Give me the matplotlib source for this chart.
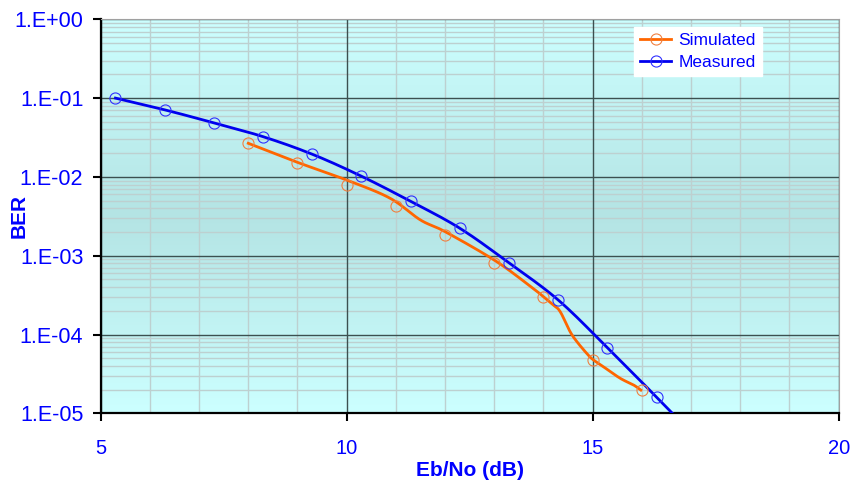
import numpy as np
import matplotlib
matplotlib.use("Agg")
import matplotlib.pyplot as plt
from matplotlib.ticker import FixedLocator, FuncFormatter, LogLocator, MultipleLocator, NullFormatter

plt.rcParams['font.family'] = ['Liberation Sans', 'DejaVu Sans']

# Measured: markers every 1 dB from 5.3 dB
meas_x = [5.3, 6.3, 7.3, 8.3, 9.3, 10.3, 11.3, 12.3, 13.3, 14.3, 15.3, 16.3]
meas_ber = [0.1, 0.071, 0.0485, 0.0324, 0.0194, 0.0102, 0.0049, 0.00223,
            0.00081, 0.000274, 6.8e-5, 1.6e-5]
# the measured curve runs on below the axis
meas_tail_x = [17.0]
meas_tail_ber = [5.7e-6]

# Simulated: markers at integer dB
sim_x = [8, 9, 10, 11, 12, 13, 14, 15, 16]
sim_ber = [0.0267, 0.0149, 0.0079, 0.0043, 0.00183, 0.0008, 0.0003, 4.8e-5, 1.97e-5]
# simulated curve as drawn (read off the line itself)
sim_line_x = [8.0, 9.0, 10.0, 10.88, 11.5, 12.0, 13.0, 13.7, 14.0, 14.2, 14.34,
              14.54, 14.68, 14.88, 15.0, 15.22, 15.56, 15.83, 15.98]
sim_line_ber = [0.0267, 0.0153, 0.00912, 0.00537, 0.00284, 0.00202, 0.00088,
                0.000425, 0.000302, 0.000237, 0.000195, 0.000109, 8.1e-5,
                5.75e-5, 4.84e-5, 3.89e-5, 2.78e-5, 2.29e-5, 1.97e-5]


def smooth(x, y, n=16):
    # catmull-rom through the points, in log space
    pts = np.column_stack([x, np.log10(y)])
    p = np.vstack([pts[0], pts, pts[-1]])
    t = np.linspace(0, 1, n, endpoint=False)[:, None]
    out = []
    for i in range(1, len(p) - 2):
        p0, p1, p2, p3 = p[i - 1], p[i], p[i + 1], p[i + 2]
        seg = 0.5 * (2 * p1 + (-p0 + p2) * t
                     + (2 * p0 - 5 * p1 + 4 * p2 - p3) * t ** 2
                     + (-p0 + 3 * p1 - 3 * p2 + p3) * t ** 3)
        out.append(seg)
    out.append(p[-2][None])
    out = np.vstack(out)
    return out[:, 0], 10 ** out[:, 1]


fig = plt.figure(figsize=(8.58, 4.82), dpi=100)
ax = fig.add_axes([100.67 / 858, 1 - 413.3 / 482, 738 / 858, 394 / 482])

# light - dark - light background
light = np.array([204, 255, 255]) / 255
dark = np.array([180, 228, 228]) / 255
s = np.abs(np.linspace(-1, 1, 256))[:, None]
grad = dark + (light - dark) * s
ax.imshow(grad[:, None, :], extent=[0, 1, 0, 1], transform=ax.transAxes,
          aspect='auto', zorder=0.1, interpolation='bilinear')

ax.set_yscale('log')
ax.set_xlim(5, 20)
ax.set_ylim(1e-5, 1)

ax.xaxis.set_major_locator(FixedLocator([5, 10, 15, 20]))
ax.xaxis.set_minor_locator(MultipleLocator(1))
ax.yaxis.set_major_locator(LogLocator(base=10, numticks=10))
ax.yaxis.set_minor_locator(LogLocator(base=10, subs=np.arange(2, 10), numticks=20))
ax.yaxis.set_minor_formatter(NullFormatter())
ax.yaxis.set_major_formatter(FuncFormatter(lambda v, p: "1.E%+03d" % round(np.log10(v))))

# minor grid from the axis, major grid drawn on top of it
ax.grid(which='minor', color='#BDD0D0', linewidth=1.0)
ax.set_axisbelow(True)
for xv in ax.get_xticks():
    ax.axvline(xv, color='#3C5050', linewidth=1.0, zorder=1)
for yv in ax.get_yticks():
    ax.axhline(yv, color='#3C5050', linewidth=1.0, zorder=1)

ax.tick_params(which='major', direction='out', length=5.5, width=1.5, color='black',
               labelcolor='#0000FF', labelsize=14.5)
ax.tick_params(axis='y', which='major', pad=7, labelsize=15.5)
ax.tick_params(axis='x', which='major', pad=13)
ax.tick_params(which='minor', length=0)

for side in ['left', 'bottom']:
    ax.spines[side].set_linewidth(1.6)
    ax.spines[side].set_color('black')
for side in ['top', 'right']:
    ax.spines[side].set_linewidth(0.8)
    ax.spines[side].set_color('#A0A0A0')

# curves
sx, sy = smooth(sim_line_x, sim_line_ber)
ax.plot(sx, sy, color='#FF6600', linewidth=2.0, zorder=3)
mx, my = smooth(meas_x + meas_tail_x, meas_ber + meas_tail_ber)
ax.plot(mx, my, color='#0000EE', linewidth=2.0, zorder=4)

ax.plot(sim_x, sim_ber, linestyle='none', marker='o', markersize=8,
        markerfacecolor='none', markeredgecolor='#F08040', markeredgewidth=0.8, zorder=5)
ax.plot(meas_x, meas_ber, linestyle='none', marker='o', markersize=8,
        markerfacecolor='none', markeredgecolor='#3030FF', markeredgewidth=0.8, zorder=6)

# legend handles
h1, = ax.plot([], [], color='#FF6600', linewidth=2.0, marker='o', markersize=8,
              markerfacecolor='none', markeredgecolor='#F08040', markeredgewidth=0.8)
h2, = ax.plot([], [], color='#0000EE', linewidth=2.0, marker='o', markersize=8,
              markerfacecolor='none', markeredgecolor='#3030FF', markeredgewidth=0.8)
leg = fig.legend([h1, h2], ['Simulated', 'Measured'], loc='upper left',
                 bbox_to_anchor=(634 / 858, 1 - 27 / 482), borderaxespad=0,
                 frameon=True, fancybox=False, edgecolor='white', facecolor='white',
                 framealpha=1, fontsize=12.5, handlelength=1.8, handletextpad=0.4,
                 labelspacing=0.4, borderpad=0.35)
for t in leg.get_texts():
    t.set_color('#0000FF')

ax.set_xlabel('Eb/No (dB)', fontsize=15, fontweight='bold', color='#0000FF', labelpad=2)
ax.set_ylabel('BER', fontsize=15, fontweight='bold', color='#0000FF')
ax.yaxis.set_label_coords((28.5 - 100.67) / 738, 0.5)

fig.savefig('out.png', dpi=100)
